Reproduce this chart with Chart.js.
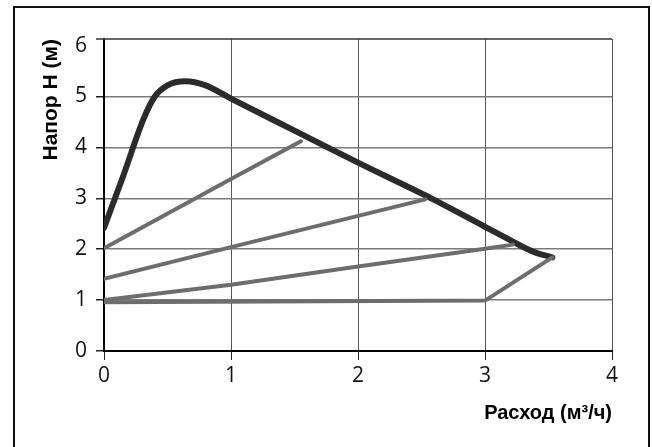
<!DOCTYPE html>
<html>
<head>
<meta charset="utf-8">
<script src="https://cdn.jsdelivr.net/npm/chart.js@4/dist/chart.umd.min.js"></script>
<style>
  html, body { margin: 0; padding: 0; background: #fff; }
  #wrap { position: relative; width: 652px; height: 447px; overflow: hidden; }
  #frame { position: absolute; left: 13px; top: 6px; right: 2px; bottom: -6px;
           border: 2px solid #111; pointer-events: none; }
</style>
</head>
<body>
<div id="wrap">
  <canvas id="c" width="652" height="447"></canvas>
  <div id="frame"></div>
</div>
<script>
// кривая макс. скорости (толстая линия)
const maxQ = [0, 0.15, 0.31, 0.4, 0.5, 0.64, 0.8, 1.0, 1.5, 2.0, 2.6, 3.0, 3.22, 3.38, 3.53];
const maxH = [2.42, 3.43, 4.55, 5.0, 5.22, 5.3, 5.22, 4.96, 4.33, 3.7, 2.97, 2.44, 2.15, 1.95, 1.84];

// линии регулирования (серые)
const lineAQ = [0, 1.0, 1.55];
const lineAH = [2.02, 3.38, 4.12];
const lineBQ = [0, 1.0, 2.53];
const lineBH = [1.42, 2.04, 2.98];
const lineCQ = [0, 1.0, 2.0, 3.0, 3.22];
const lineCH = [1.0, 1.3, 1.66, 2.01, 2.09];
const lineDQ = [0, 3.0, 3.53];
const lineDH = [0.96, 0.99, 1.84];

const xTicks = [0, 1, 2, 3, 4];
const yTicks = [0, 1, 2, 3, 4, 5, 6];

const pts = (qs, hs) => qs.map((q, i) => ({ x: q, y: hs[i] }));

const gray = '#6d6d6d';
const ink = '#2b2b2b';

const topLine = {
  id: 'topLine',
  afterDraw(chart) {
    const { ctx, chartArea: a } = chart;
    ctx.save();
    ctx.strokeStyle = '#333';
    ctx.lineWidth = 1.5;
    ctx.beginPath();
    ctx.moveTo(a.left - 8, a.top);
    ctx.lineTo(a.right, a.top);
    ctx.stroke();
    ctx.restore();
  }
};

const thin = (data) => ({
  data, borderColor: gray, borderWidth: 4, pointRadius: 0, tension: 0,
  borderJoinStyle: 'round', borderCapStyle: 'round'
});

new Chart(document.getElementById('c').getContext('2d'), {
  type: 'line',
  data: {
    datasets: [
      thin(pts(lineAQ, lineAH)),
      thin(pts(lineBQ, lineBH)),
      thin(pts(lineCQ, lineCH)),
      thin(pts(lineDQ, lineDH)),
      { data: pts(maxQ, maxH), borderColor: ink, borderWidth: 6, pointRadius: 0,
        cubicInterpolationMode: 'monotone', borderJoinStyle: 'round', borderCapStyle: 'round' }
    ]
  },
  options: {
    responsive: false,
    animation: false,
    layout: { padding: { top: 39, right: 40, bottom: 0, left: 0 } },
    plugins: { legend: { display: false }, tooltip: { enabled: false } },
    scales: {
      x: {
        type: 'linear', min: 0, max: 4,
        afterFit: s => { s.height = 96; },
        afterBuildTicks: s => { s.ticks = xTicks.map(v => ({ value: v })); },
        grid: { color: '#555', lineWidth: 1, tickLength: 9, tickColor: '#222' },
        border: { color: '#000', width: 2 },
        ticks: { padding: 3, color: '#111', font: { family: 'Open Sans', size: 21 } },
        title: { display: true, text: 'Расход (м³/ч)', align: 'end', color: '#000',
                 padding: { top: 0, bottom: 22 },
                 font: { family: 'Liberation Sans', size: 20, weight: 'bold' } }
      },
      y: {
        type: 'linear', min: 0, max: 6.13,
        afterFit: s => { s.width = 104; },
        afterBuildTicks: s => { s.ticks = yTicks.map(v => ({ value: v })); },
        grid: {
          color: c => c.tick && c.tick.value === 6 ? 'rgba(0,0,0,0)' : '#7a7a7a',
          tickColor: c => c.tick && c.tick.value === 6 ? 'rgba(0,0,0,0)' : '#222',
          lineWidth: 1.5, tickLength: 8
        },
        border: { color: '#000', width: 2 },
        ticks: { padding: 9, color: '#111', font: { family: 'Open Sans', size: 21 } },
        title: { display: true, text: 'Напор H (м)', align: 'end', color: '#000',
                 padding: { top: 39, bottom: 0 },
                 font: { family: 'Liberation Sans', size: 21, weight: 'bold' } }
      }
    }
  },
  plugins: [topLine]
});
</script>
</body>
</html>
